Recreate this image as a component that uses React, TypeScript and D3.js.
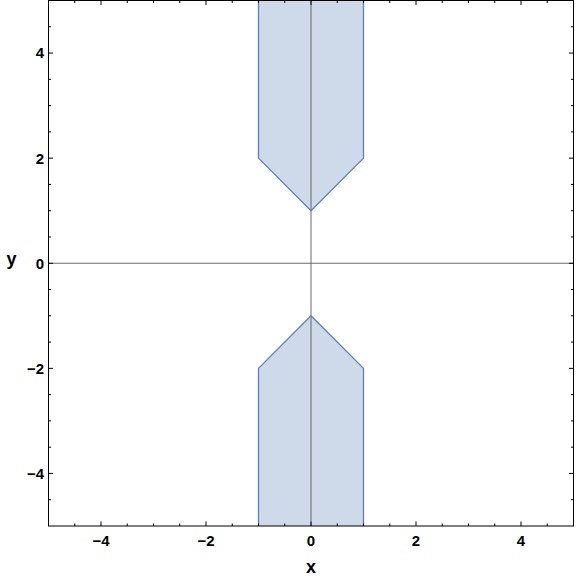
import { useEffect, useRef } from 'react'
import * as d3 from 'd3'

const WIDTH = 576
const HEIGHT = 580
const LEFT = 48.5
const RIGHT = 573.5
const TOP = 0.5
const BOTTOM = 526

// region boundaries (x, y), upper and lower pieces
const upperX = [-1, -1, 0, 1, 1]
const upperY = [5, 2, 1, 2, 5]
const lowerX = [-1, -1, 0, 1, 1]
const lowerY = [-5, -2, -1, -2, -5]

const majorTicks = [-4, -2, 0, 2, 4]
const minorTicks = [-4.5, -3.5, -3, -2.5, -1.5, -1, -0.5, 0.5, 1, 1.5, 2.5, 3, 3.5, 4.5]

const STROKE = '#5e81b5'
const FILL = 'rgba(94,129,181,0.3)'
const FONT = 'Liberation Sans, Arial, sans-serif'

function App() {
  const svgRef = useRef<SVGSVGElement>(null)

  useEffect(() => {
    document.body.style.margin = '0'
    if (!svgRef.current) return
    const svg = d3.select(svgRef.current)
    svg.selectAll('*').remove()

    const x = d3.scaleLinear().domain([-5, 5]).range([LEFT, RIGHT])
    const y = d3.scaleLinear().domain([-5, 5]).range([BOTTOM, TOP])

    const line = d3.line<[number, number]>().x(d => x(d[0])).y(d => y(d[1]))

    const pieces = [
      upperX.map((v, i) => [v, upperY[i]] as [number, number]),
      lowerX.map((v, i) => [v, lowerY[i]] as [number, number]),
    ]

    const plot = svg.append('g')
    pieces.forEach(pts => {
      plot.append('path')
        .attr('d', line(pts) + 'Z')
        .attr('fill', FILL)
        .attr('stroke', 'none')
    })

    // axes through origin
    plot.append('line')
      .attr('x1', x(-5)).attr('x2', x(5))
      .attr('y1', y(0)).attr('y2', y(0))
      .attr('stroke', '#6b6b6b').attr('stroke-width', 1)
    plot.append('line')
      .attr('x1', x(0)).attr('x2', x(0))
      .attr('y1', y(-5)).attr('y2', y(5))
      .attr('stroke', '#6b6b6b').attr('stroke-width', 1)

    // region outline (open at plot range edges)
    pieces.forEach(pts => {
      plot.append('path')
        .attr('d', line(pts))
        .attr('fill', 'none')
        .attr('stroke', STROKE)
        .attr('stroke-width', 1.3)
        .attr('stroke-linejoin', 'round')
    })

    // frame
    svg.append('rect')
      .attr('x', LEFT).attr('y', TOP)
      .attr('width', RIGHT - LEFT).attr('height', BOTTOM - TOP)
      .attr('fill', 'none').attr('stroke', '#000').attr('stroke-width', 1)

    const ticks = svg.append('g').attr('stroke', '#000').attr('stroke-width', 1)
    const tickSets: [number[], number][] = [[majorTicks, 4.5], [minorTicks, 2.5]]
    tickSets.forEach(([vals, len]) => {
      vals.forEach(v => {
        // bottom & top
        ticks.append('line').attr('x1', x(v)).attr('x2', x(v)).attr('y1', BOTTOM).attr('y2', BOTTOM - len)
        ticks.append('line').attr('x1', x(v)).attr('x2', x(v)).attr('y1', TOP).attr('y2', TOP + len)
        // left & right
        ticks.append('line').attr('y1', y(v)).attr('y2', y(v)).attr('x1', LEFT).attr('x2', LEFT + len)
        ticks.append('line').attr('y1', y(v)).attr('y2', y(v)).attr('x1', RIGHT).attr('x2', RIGHT - len)
      })
    })

    const fmt = (v: number) => (v < 0 ? '\u2212' + Math.abs(v) : String(v))

    const labels = svg.append('g')
      .attr('font-family', FONT)
      .attr('font-size', 15)
      .attr('font-weight', 'bold')
      .attr('fill', '#000')

    majorTicks.forEach(v => {
      labels.append('text')
        .attr('x', x(v)).attr('y', BOTTOM + 19.5)
        .attr('text-anchor', 'middle')
        .text(fmt(v))
      labels.append('text')
        .attr('x', LEFT - 4.5).attr('y', y(v))
        .attr('dy', '0.36em')
        .attr('text-anchor', 'end')
        .text(fmt(v))
    })

    labels.append('text')
      .attr('x', x(0)).attr('y', 573)
      .attr('text-anchor', 'middle')
      .attr('font-size', 18)
      .text('x')
    labels.append('text')
      .attr('x', 11.5).attr('y', 265)
      .attr('text-anchor', 'middle')
      .attr('font-size', 18)
      .text('y')
  }, [])

  return <svg ref={svgRef} width={WIDTH} height={HEIGHT} style={{ display: 'block' }} />
}

export default App
